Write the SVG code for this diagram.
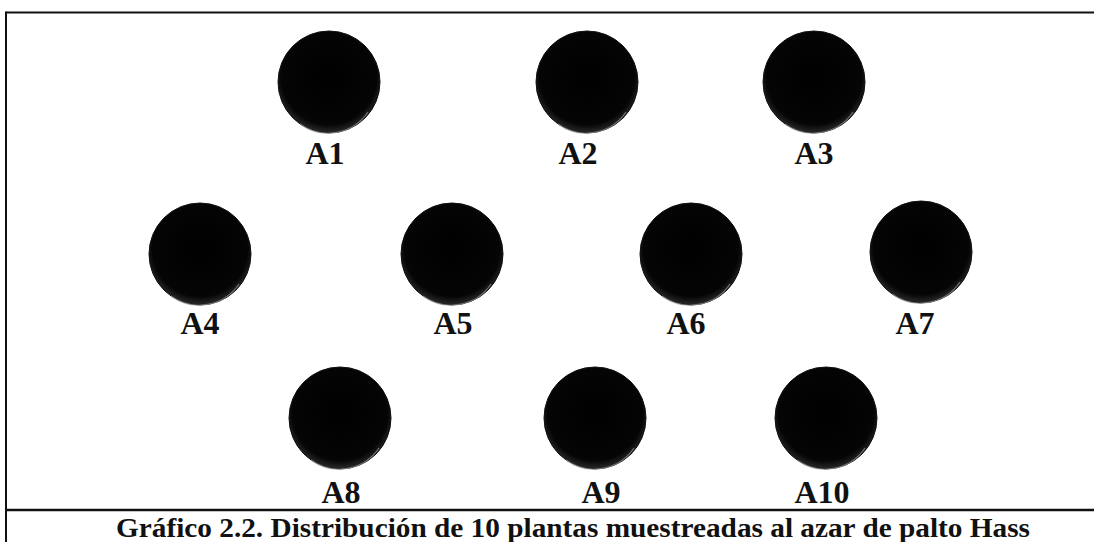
<svg xmlns="http://www.w3.org/2000/svg" width="1094" height="542" viewBox="0 0 1094 542">
<defs>
<radialGradient id="ball" cx="0.5" cy="0.45" r="0.55">
<stop offset="0" stop-color="#000"/>
<stop offset="0.85" stop-color="#050505"/>
<stop offset="1" stop-color="#2a2a2a"/>
</radialGradient>
</defs>
<style>
.plant{fill:url(#ball);stroke:#111;stroke-width:1}
.hl{fill:none;stroke:#9a9a9a;stroke-width:1.2;opacity:0.7}
.lbl{font-family:"Liberation Serif","Times New Roman",serif;font-weight:bold;font-size:32px;fill:#111;text-anchor:middle}
.cap{font-family:"Liberation Serif","Times New Roman",serif;font-weight:bold;font-size:28px;fill:#111;text-anchor:middle}
.frame{stroke:#111;fill:none}
</style>
<rect width="1094" height="542" fill="#fff"/>
<g id="frame">
<line class="frame" x1="6" y1="12.5" x2="1094" y2="12.5" stroke-width="2"/>
<line class="frame" x1="6" y1="11.5" x2="6" y2="542" stroke-width="2"/>
<line class="frame" x1="6" y1="510" x2="1094" y2="510" stroke-width="2.5"/>
</g>
<g id="connectors"></g>
<g id="A1"><circle class="plant" cx="329" cy="82" r="51"/><path class="hl" d="M300 124 A48 48 0 0 0 368 112"/><text class="lbl" x="325" y="164">A1</text></g>
<g id="A2"><circle class="plant" cx="587" cy="82" r="51"/><path class="hl" d="M558 124 A48 48 0 0 0 626 112"/><text class="lbl" x="578" y="164">A2</text></g>
<g id="A3"><circle class="plant" cx="814" cy="82" r="51"/><path class="hl" d="M785 124 A48 48 0 0 0 853 112"/><text class="lbl" x="814" y="164">A3</text></g>
<g id="A4"><circle class="plant" cx="200" cy="254" r="51"/><path class="hl" d="M171 296 A48 48 0 0 0 239 284"/><text class="lbl" x="200" y="334">A4</text></g>
<g id="A5"><circle class="plant" cx="452" cy="254" r="51"/><path class="hl" d="M423 296 A48 48 0 0 0 491 284"/><text class="lbl" x="453" y="334">A5</text></g>
<g id="A6"><circle class="plant" cx="691" cy="254" r="51"/><path class="hl" d="M662 296 A48 48 0 0 0 730 284"/><text class="lbl" x="686" y="334">A6</text></g>
<g id="A7"><circle class="plant" cx="921" cy="252" r="51"/><path class="hl" d="M892 294 A48 48 0 0 0 960 282"/><text class="lbl" x="915" y="334">A7</text></g>
<g id="A8"><circle class="plant" cx="340" cy="418" r="51"/><path class="hl" d="M311 460 A48 48 0 0 0 379 448"/><text class="lbl" x="341" y="503">A8</text></g>
<g id="A9"><circle class="plant" cx="595" cy="418" r="51"/><path class="hl" d="M566 460 A48 48 0 0 0 634 448"/><text class="lbl" x="601" y="503">A9</text></g>
<g id="A10"><circle class="plant" cx="826" cy="418" r="51"/><path class="hl" d="M797 460 A48 48 0 0 0 865 448"/><text class="lbl" x="822" y="503">A10</text></g>
<g id="caption"><text class="cap" x="573" y="537" textLength="914" lengthAdjust="spacingAndGlyphs">Gráfico 2.2. Distribución de 10 plantas muestreadas al azar de palto Hass</text></g>
</svg>
